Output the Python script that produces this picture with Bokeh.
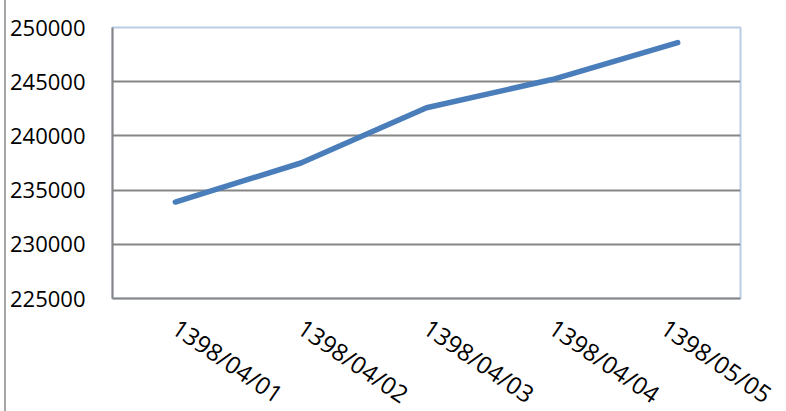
import math
from bokeh.plotting import figure
from bokeh.models import FixedTicker, Range1d, BasicTickFormatter
from bokeh.embed import file_html
from bokeh.resources import INLINE

categories = ["1398/04/01", "1398/04/02", "1398/04/03", "1398/04/04", "1398/05/05"]
values = [233900, 237500, 242600, 245200, 248600]
y_ticks = [225000, 230000, 235000, 240000, 245000, 250000]
grid_ticks = [230000, 235000, 240000, 245000]

FONT = "Open Sans"

p = figure(x_range=categories, y_range=Range1d(225000, 250000),
           frame_width=628, frame_height=271, output_backend="svg", toolbar_location=None,
           min_border_left=112, min_border_right=38, min_border_top=27,
           min_border_bottom=100)
p.x_range.range_padding = 0

p.line(categories, values, line_color="#4a7ebb", line_width=5.5, line_cap="round", line_join="round")

p.outline_line_color = "#b9cde5"
p.outline_line_width = 2
p.outline_line_alpha = 1

p.xgrid.visible = False
p.ygrid.ticker = FixedTicker(ticks=grid_ticks)
p.ygrid.grid_line_color = "#868686"
p.ygrid.grid_line_width = 2

p.yaxis.ticker = FixedTicker(ticks=y_ticks)
p.yaxis.formatter = BasicTickFormatter(use_scientific=False)
for ax in (p.xaxis[0], p.yaxis[0]):
    ax.axis_line_color = "#868686"
    ax.axis_line_width = 2
    ax.major_tick_line_color = None
    ax.minor_tick_line_color = None
    ax.major_label_text_font = FONT
    ax.major_label_text_color = "#000000"

p.yaxis.major_label_text_font_size = "22px"
p.yaxis.major_label_standoff = 21
p.xaxis.major_label_text_font_size = "24px"
p.xaxis.major_label_orientation = -0.6
p.xaxis.major_label_standoff = 20

p.background_fill_color = "white"
p.border_fill_color = None
p.styles = {"box-shadow": "inset 4px 0 0 0 #ffffff, inset 6px 0 0 0 #a6a6a6"}

open("out.html", "w").write(file_html(p, INLINE))
